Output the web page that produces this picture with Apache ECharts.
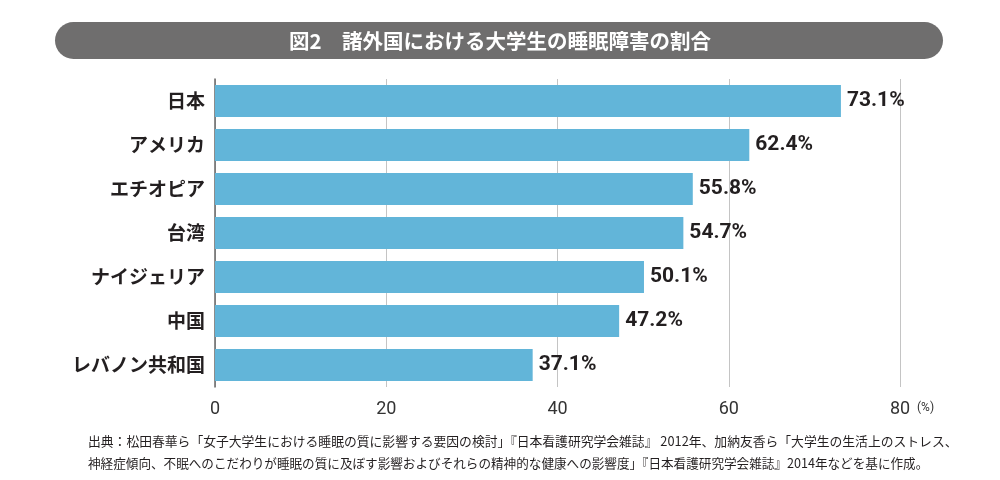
<!DOCTYPE html>
<html>
<head>
<meta charset="utf-8">
<script src="https://cdn.jsdelivr.net/npm/echarts@6/dist/echarts.min.js"></script>
<style>
  html, body { margin: 0; padding: 0; background: #fff; }
  #view { width: 1000px; height: 480px; }
</style>
</head>
<body>
<div id="view"></div>
<script>
// 国・地域名（上から順）
var countries = ["日本", "アメリカ", "エチオピア", "台湾", "ナイジェリア", "中国", "レバノン共和国"];
// 睡眠障害の割合（%）
var rates = [73.1, 62.4, 55.8, 54.7, 50.1, 47.2, 37.1];
var xTicks = [0, 20, 40, 60, 80];

var titleText = "図2　諸外国における大学生の睡眠障害の割合";
var sourceLines = [
  "出典：松田春華ら「女子大学生における睡眠の質に影響する要因の検討」『日本看護研究学会雑誌』 2012年、加納友香ら「大学生の生活上のストレス、",
  "神経症傾向、不眠へのこだわりが睡眠の質に及ぼす影響およびそれらの精神的な健康への影響度」『日本看護研究学会雑誌』2014年などを基に作成。"
];

var jp = '"Noto Sans CJK JP", sans-serif';
var num = 'Roboto, sans-serif';

var option = {
  animation: false,
  backgroundColor: "#fff",
  grid: {
    left: 215,
    right: 100,
    top: 79,
    height: 308
  },
  xAxis: {
    type: "value",
    min: 0,
    max: 80,
    interval: 20,
    axisLine: { show: false },
    axisTick: { show: false },
    axisLabel: {
      margin: 13,
      fontSize: 18,
      color: "#333",
      fontFamily: num
    },
    splitLine: { lineStyle: { color: "#c4c4c4", width: 1 } },
    name: "(%)",
    nameLocation: "end",
    nameGap: 17,
    nameTextStyle: {
      fontSize: 12,
      color: "#333",
      fontFamily: num,
      verticalAlign: "top",
      padding: [15, 0, 0, 0]
    }
  },
  yAxis: {
    type: "category",
    inverse: true,
    data: countries,
    axisLine: { show: true, lineStyle: { color: "#666", width: 1.5 } },
    axisTick: { show: false },
    axisLabel: {
      margin: 10,
      fontSize: 19,
      fontWeight: "bold",
      color: "#231f20",
      fontFamily: jp
    }
  },
  series: [{
    type: "bar",
    data: rates,
    barWidth: 32,
    itemStyle: { color: "#62b5d9" },
    label: {
      show: true,
      position: "right",
      distance: 6,
      formatter: "{c}%",
      fontSize: 21,
      fontWeight: "bold",
      color: "#231f20",
      fontFamily: num
    }
  }],
  graphic: [
    {
      type: "rect",
      shape: { x: 55, y: 22, width: 888, height: 37, r: 18.5 },
      style: { fill: "#6f6e6e" },
      z: 1
    },
    {
      type: "text",
      x: 500,
      y: 41,
      style: {
        text: titleText,
        fill: "#fff",
        font: 'bold 20.5px "Noto Sans CJK JP", sans-serif',
        textAlign: "center",
        textVerticalAlign: "middle"
      },
      z: 2
    },
    {
      type: "text",
      x: 88,
      y: 441,
      style: {
        text: sourceLines[0],
        fill: "#231f20",
        font: '12.8px "Noto Sans CJK JP", sans-serif',
        textVerticalAlign: "middle"
      }
    },
    {
      type: "text",
      x: 88,
      y: 463,
      style: {
        text: sourceLines[1],
        fill: "#231f20",
        font: '12.6px "Noto Sans CJK JP", sans-serif',
        textVerticalAlign: "middle"
      }
    }
  ]
};

echarts.init(document.getElementById("view")).setOption(option);
</script>
</body>
</html>
